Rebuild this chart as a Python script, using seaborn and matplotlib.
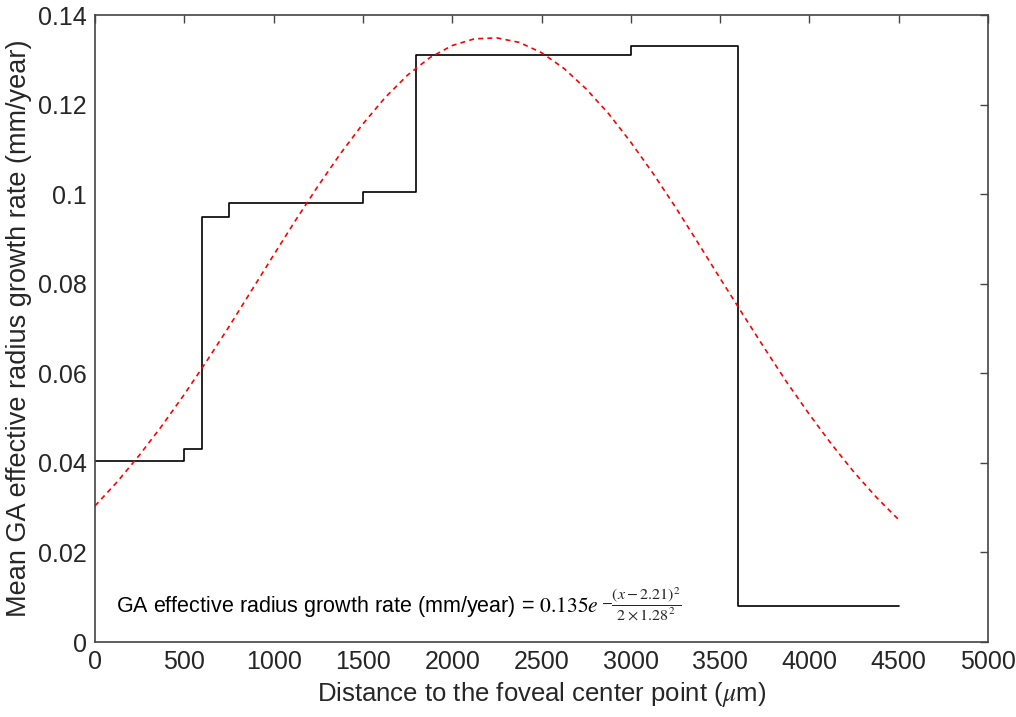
import matplotlib
matplotlib.use("Agg")
import matplotlib.pyplot as plt
import seaborn as sns
import pandas as pd

# step data: bin edges (um) and mean growth rate per bin
edges = [0, 500, 600, 750, 1500, 1800, 3000, 3600, 4500]
rates = [0.0405, 0.043, 0.095, 0.098, 0.1005, 0.131, 0.133, 0.008]

# fitted gaussian curve
fit_x = [0, 125, 250, 375, 500, 625, 750, 875, 1000, 1125, 1250, 1375, 1500,
         1625, 1750, 1875, 2000, 2125, 2250, 2375, 2500, 2625, 2750, 2875,
         3000, 3125, 3250, 3375, 3500, 3625, 3750, 3875, 4000, 4125, 4250,
         4375, 4500]
fit_y = [0.0304, 0.0358, 0.0418, 0.0483, 0.0553, 0.0627, 0.0704, 0.0784,
         0.0864, 0.0943, 0.1019, 0.1091, 0.1157, 0.1216, 0.1266, 0.1305,
         0.1332, 0.1347, 0.1349, 0.1339, 0.1316, 0.1281, 0.1235, 0.1180,
         0.1116, 0.1046, 0.0971, 0.0892, 0.0812, 0.0733, 0.0655, 0.0579,
         0.0508, 0.0441, 0.0379, 0.0323, 0.0273]

sns.set_style("white")
plt.rcParams['font.family'] = ['Liberation Sans', 'DejaVu Sans']
plt.rcParams['mathtext.fontset'] = 'stix'

step_df = pd.DataFrame({'x': edges, 'y': rates + [rates[-1]]})
fit_df = pd.DataFrame({'x': fit_x, 'y': fit_y})

fig = plt.figure(figsize=(10.16, 7.17), dpi=100)
ax = fig.add_axes([0.0935, 0.1046, 0.879, 0.8744])

sns.lineplot(data=step_df, x='x', y='y', ax=ax, color='black', linewidth=1.2,
             drawstyle='steps-post', estimator=None, sort=False)
sns.lineplot(data=fit_df, x='x', y='y', ax=ax, color='red', linewidth=1.2,
             linestyle=(0, (3, 2.5)), estimator=None, sort=False)

ax.set_xlim(0, 5000)
ax.set_ylim(0, 0.14)
ax.set_xticks(range(0, 5001, 500))
ax.set_yticks([0, 0.02, 0.04, 0.06, 0.08, 0.1, 0.12, 0.14])
ax.set_yticklabels(['0', '0.02', '0.04', '0.06', '0.08', '0.1', '0.12', '0.14'])
ax.tick_params(direction='in', length=6, width=1, top=True, right=True,
               labelsize=18, color='#444444', labelcolor='#262626', pad=6)
for s in ax.spines.values():
    s.set_color('#444444')
    s.set_linewidth(1.2)

ax.set_xlabel(r'Distance to the foveal center point ($\mu$m)', fontsize=18.5,
              color='#262626', labelpad=4)
ax.set_ylabel('Mean GA effective radius growth rate (mm/year)', fontsize=19.5,
              color='#262626', labelpad=4)

main = ax.text(120, 0.0067,
               r'GA effective radius growth rate (mm/year) = $0.135e$',
               fontsize=15.5, va='baseline', ha='left', color='black')
ax.annotate(r'$-\dfrac{(x-2.21)^2}{2\times1.28^2}$', xy=(1, 0), xycoords=main,
            xytext=(1, 11), textcoords='offset points', fontsize=11.5,
            va='center', ha='left')

fig.savefig('out.png', dpi=100)
